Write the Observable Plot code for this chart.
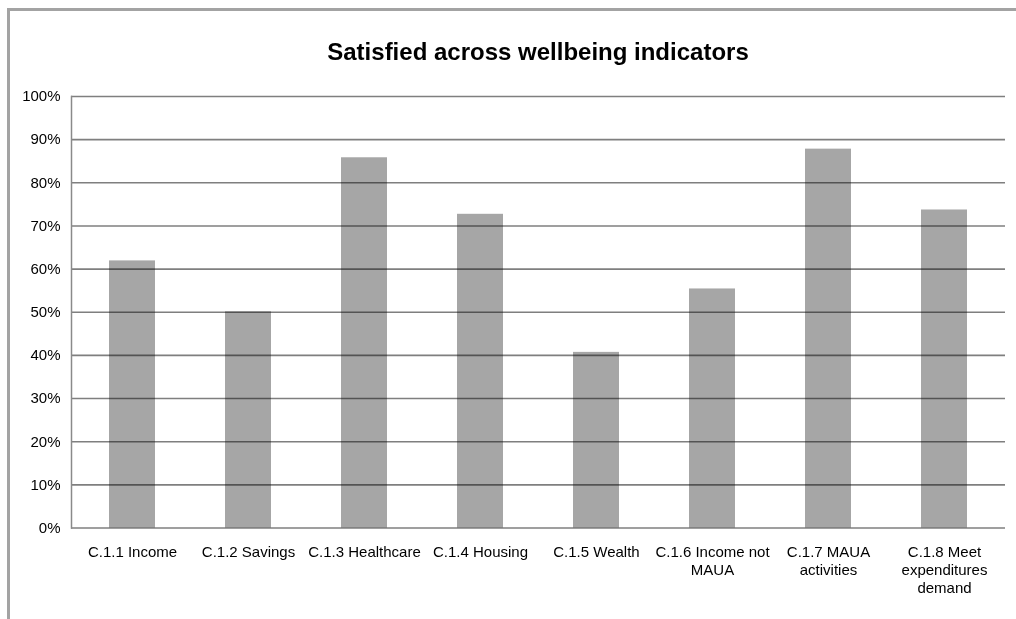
<!DOCTYPE html>
<html>
<head>
<meta charset="utf-8">
<script src="https://cdn.jsdelivr.net/npm/d3@7"></script>
<script src="https://cdn.jsdelivr.net/npm/@observablehq/plot@0.6"></script>
<style>
  html, body { margin: 0; padding: 0; background: #fff; overflow: hidden; }
  body { width: 1016px; height: 619px; position: relative; font-family: "Liberation Sans", sans-serif; }
  #frame { position: absolute; left: 7px; top: 8px; width: 1100px; height: 700px; border: 3px solid #a3a3a3; box-sizing: border-box; }
  #title { position: absolute; left: 0; width: 1076px; top: 38px; text-align: center; font-family: "Liberation Sans", sans-serif; font-weight: bold; font-size: 24px; color: #000; }
  #chart { position: absolute; left: 0; top: 0; }
</style>
</head>
<body>
<div id="frame"></div>
<div id="title">Satisfied across wellbeing indicators</div>
<div id="chart"></div>
<script>
const categories = [
  "C.1.1 Income",
  "C.1.2 Savings",
  "C.1.3 Healthcare",
  "C.1.4 Housing",
  "C.1.5 Wealth",
  "C.1.6 Income not\nMAUA",
  "C.1.7 MAUA\nactivities",
  "C.1.8 Meet\nexpenditures\ndemand"
];
const satisfied = [61.9, 50.1, 85.8, 72.7, 40.7, 55.4, 87.8, 73.7];
const yTicks = [0, 10, 20, 30, 40, 50, 60, 70, 80, 90, 100];
const yTickLabels = ["0%", "10%", "20%", "30%", "40%", "50%", "60%", "70%", "80%", "90%", "100%"];

const data = categories.map((c, i) => ({category: c, value: satisfied[i]}));

const plot = Plot.plot({
  width: 1016,
  height: 619,
  marginTop: 96,
  marginBottom: 91.5,
  marginLeft: 71,
  marginRight: 11,
  style: {fontFamily: "'Liberation Sans', sans-serif", fontSize: "15px", color: "#000", background: "transparent"},
  x: {domain: categories, paddingInner: 0.6, paddingOuter: 0.3, axis: null},
  y: {domain: [0, 100], axis: null},
  marks: [
    Plot.barY(data, {x: "category", y: "value", fill: "#a6a6a6"}),
    Plot.ruleY(yTicks, {stroke: "#7f7f7f", strokeWidth: 1.6, mixBlendMode: "multiply"}),
    Plot.frame({anchor: "left", stroke: "#8a8a8a", strokeWidth: 1.5}),
    Plot.text(yTicks, {y: d => d, frameAnchor: "left", text: (d, i) => yTickLabels[i], textAnchor: "end", dx: -11, fill: "#000"}),
    Plot.text(data, {x: "category", y: 0, text: "category", lineAnchor: "top", dy: 16, lineHeight: 1.2, textAnchor: "middle", fill: "#000"})
  ]
});
document.getElementById("chart").appendChild(plot);
d3.select(plot).selectAll('g[aria-label="bar"]').style("filter", "blur(0.7px)");
</script>
</body>
</html>
